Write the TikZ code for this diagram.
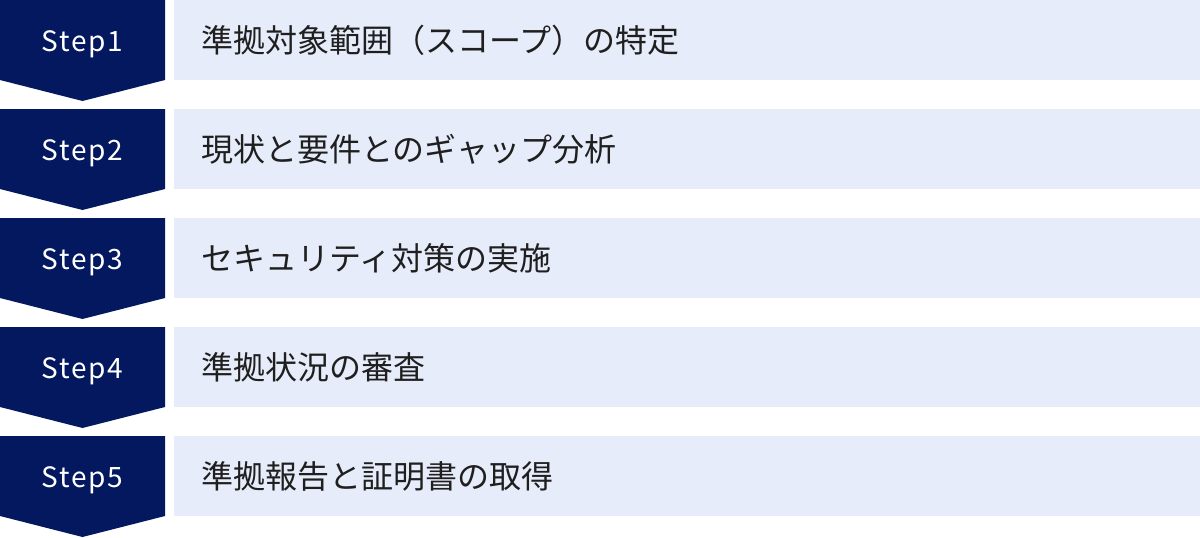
\documentclass[tikz,border=0pt]{standalone}
\usepackage{fontspec}
\newfontfamily\jpfont{Noto Sans CJK JP}
\newfontfamily\stepfont[LetterSpace=6]{Noto Sans CJK JP}
\definecolor{stepnavy}{RGB}{4,24,96}
\definecolor{taskbg}{RGB}{230,236,249}
\usetikzlibrary{positioning}

\begin{document}
\begin{tikzpicture}[x=1pt, y=1pt, yscale=-1,
  stepshape/.style={fill=stepnavy},
  steplabel/.style={text=white, inner sep=0pt, font=\stepfont\fontsize{28}{32}\selectfont},
  taskbox/.style={fill=taskbg},
  tasklabel/.style={text=black!88, inner sep=0pt, anchor=west, font=\jpfont\fontsize{32}{38}\selectfont}]
\useasboundingbox (0,0) rectangle (1200,538);
\foreach \i/\task in {1/準拠対象範囲（スコープ）の特定,
                      2/現状と要件とのギャップ分析,
                      3/セキュリティ対策の実施,
                      4/準拠状況の審査,
                      5/準拠報告と証明書の取得} {
  \pgfmathsetmacro\rowtop{(\i-1)*109}
  \fill[stepshape] (0,\rowtop) -- (165,\rowtop) -- (165,\rowtop+80)
    -- (82.5,\rowtop+101) -- (0,\rowtop+80) -- cycle;
  \node[steplabel] (step\i) at (82.5,\rowtop+44) {Step\i};
  \fill[taskbox] (174,\rowtop) rectangle (1200,\rowtop+80);
  \node[tasklabel] (task\i) at (201,\rowtop+40) {\task};
}
\end{tikzpicture}
\end{document}
